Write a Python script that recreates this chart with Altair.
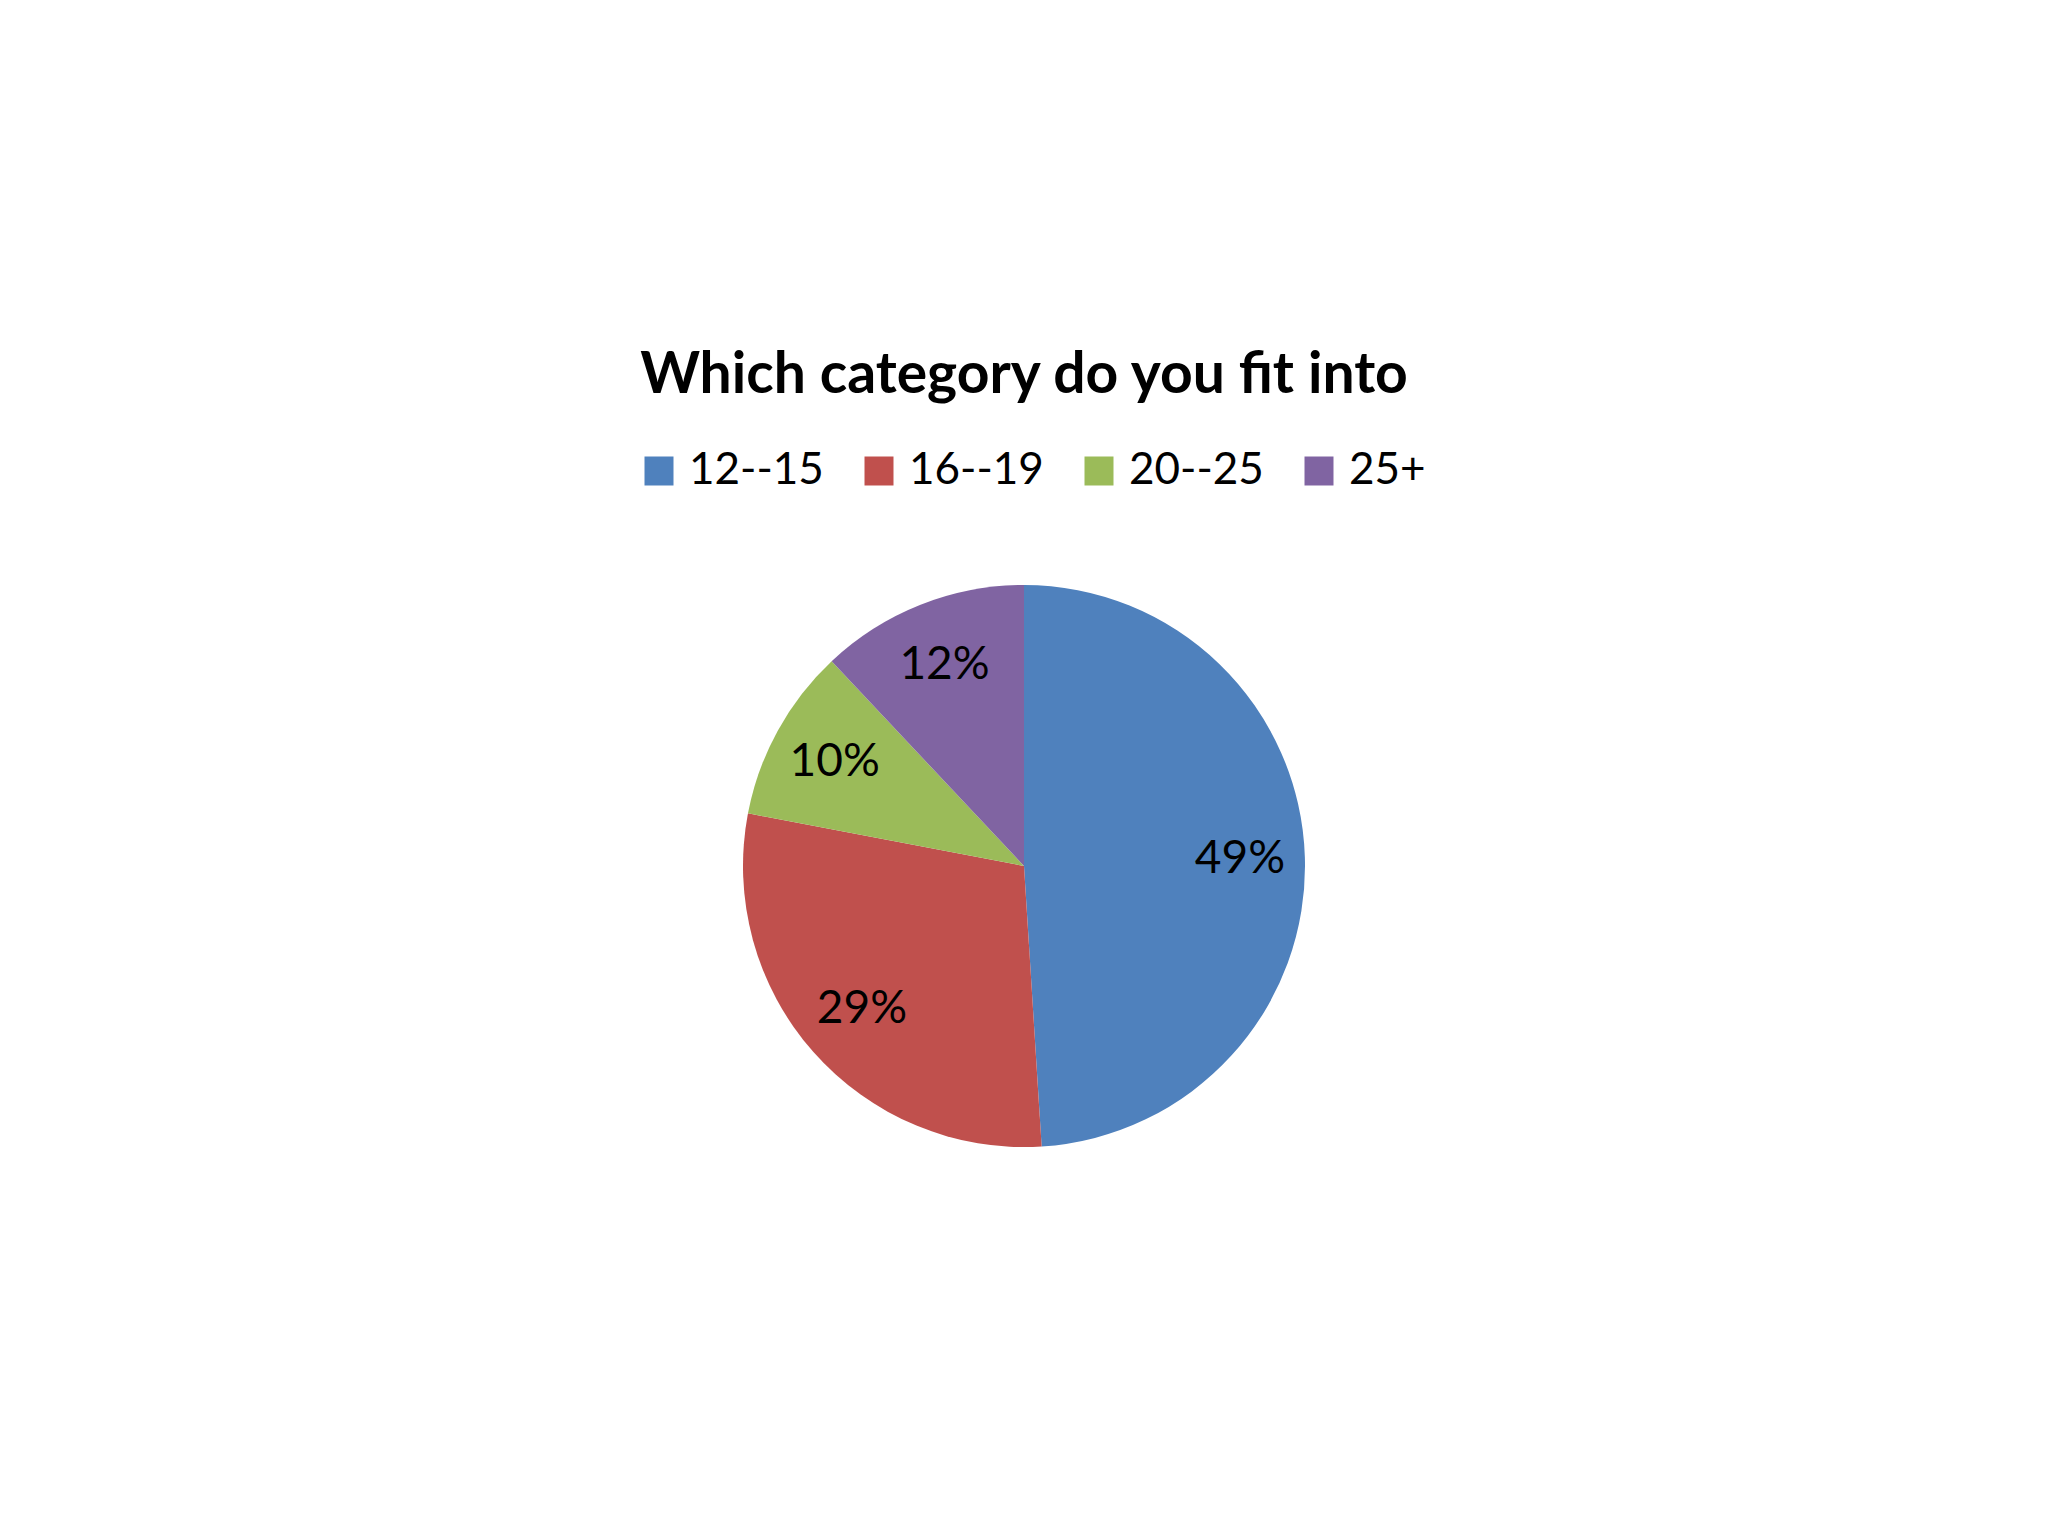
import altair as alt
import pandas as pd

categories = ["12--15", "16--19", "20--25", "25+"]
values = [49, 29, 10, 12]
labels = ["49%", "29%", "10%", "12%"]
colors = ["#4F81BD", "#C0504D", "#9BBB59", "#8064A2"]
order = [0, 1, 2, 3]

df = pd.DataFrame({"category": categories, "value": values, "label": labels, "order": order})

base = alt.Chart(df).encode(
    theta=alt.Theta("value:Q", stack=True),
    order=alt.Order("order:Q"),
)

pie = base.mark_arc(outerRadius=281, stroke=None).encode(
    color=alt.Color(
        "category:N",
        scale=alt.Scale(domain=categories, range=colors),
        legend=alt.Legend(
            orient="none",
            legendX=629,
            legendY=-41,
            direction="horizontal",
            title=None,
            symbolType="square",
            symbolSize=841,
            symbolStrokeWidth=0,
            labelFontSize=44,
            labelFont="Lato",
            labelColor="black",
            labelOffset=8,
            columnPadding=33,
        ),
    )
)

text = base.mark_text(radius=216, fontSize=46, font="Lato", color="black",
                      align="center", baseline="middle").encode(text="label:N")

chart = (
    alt.layer(pie, text)
    .properties(
        width=2032,
        height=752,
        padding={"top": 482, "left": 0, "right": 0, "bottom": 0},
        autosize=alt.AutoSizeParams(type="none"),
        title=alt.TitleParams(
            "Which category do you fit into",
            fontSize=57,
            font="Lato",
            fontWeight="bold",
            color="black",
            anchor="middle",
            baseline="alphabetic",
            offset=-1,
        ),
    )
    .configure_view(stroke=None)
)

chart.save("out.html", embed_options={"renderer": "svg", "actions": False})
